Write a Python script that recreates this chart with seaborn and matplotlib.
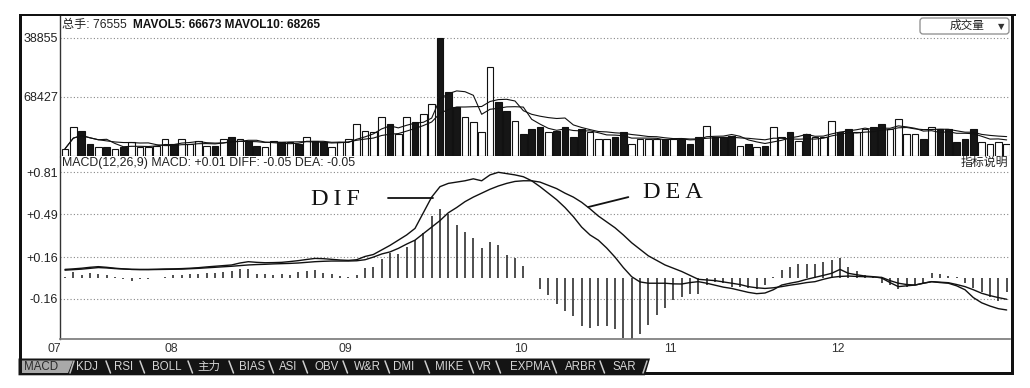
import numpy as np
import pandas as pd
import matplotlib
matplotlib.use("Agg")
import matplotlib.pyplot as plt
import seaborn as sns
from matplotlib.patches import Rectangle, Polygon, FancyBboxPatch

sns.set_theme(style="white")
plt.rcParams["font.family"] = ["Liberation Sans", "Noto Sans CJK SC", "DejaVu Sans"]

# ---- data ----
volume = [7800, 32500, 29000, 12800, 9300, 10400, 8100, 10400, 15100, 9300,
          9300, 11600, 18600, 13900, 18600, 12800, 17400, 11600, 11600, 19700,
          20900, 18600, 17400, 11600, 9300, 17400, 15100, 15100, 13900, 20900,
          17400, 15100, 9300, 15100, 18600, 36000, 29000, 26700, 44100, 36000,
          24400, 44100, 39400, 48700, 60300, 136855, 73100, 55700, 44100, 39400,
          26700, 102100, 61500, 52200, 40600,
          24400, 31300, 33600, 27800, 29000, 32500, 22000, 31300, 27800, 18600,
          19700, 20900, 27800, 13900, 18600, 19700, 19700, 18600, 18600, 19700,
          13900, 22000, 34800, 20900, 20900, 23200, 11600, 13900, 9300, 11600,
          32500, 20900, 27800, 17400, 24400, 20900, 22000, 40600, 27800, 31300,
          27800, 31300, 32500, 36000, 30200, 41800, 25500, 24400, 19700, 32500,
          31300, 30200, 15100, 19700, 30200, 16200, 13900, 16200, 13900]
# 1 = filled (down day), 0 = hollow (up day)
down_day = [0, 0, 1, 1, 0, 1, 0, 1, 0, 0,
            0, 0, 0, 1, 0, 0, 0, 0, 1, 0,
            1, 0, 1, 1, 0, 0, 1, 0, 1, 0,
            1, 1, 0, 0, 0, 0, 0, 0, 0, 1,
            0, 0, 1, 0, 0, 1, 1, 1, 0, 0,
            0, 0, 1, 1, 0,
            1, 1, 1, 0, 1, 1, 1, 1, 0, 0,
            0, 1, 1, 0, 0, 0, 0, 1, 0, 1,
            1, 1, 0, 1, 1, 1, 0, 1, 0, 1,
            0, 0, 1, 0, 1, 0, 0, 0, 1, 1,
            0, 0, 1, 1, 0, 0, 0, 0, 1, 0,
            1, 1, 1, 1, 1, 0, 0, 0, 0]

dif = [0.066, 0.07, 0.075, 0.082, 0.087, 0.082, 0.075, 0.07, 0.066, 0.065,
       0.066, 0.067, 0.069, 0.07, 0.072, 0.075, 0.079, 0.085, 0.09, 0.095,
       0.1, 0.115, 0.125, 0.12, 0.117, 0.118, 0.12, 0.126, 0.133, 0.142,
       0.15, 0.148, 0.143, 0.138, 0.135, 0.14, 0.165, 0.18, 0.215, 0.25,
       0.29, 0.33, 0.38, 0.50, 0.62, 0.70, 0.725, 0.735, 0.745, 0.76,
       0.745, 0.79, 0.81, 0.80, 0.79, 0.776, 0.745, 0.70, 0.65, 0.60,
       0.54, 0.47, 0.39, 0.33, 0.29, 0.23, 0.16, 0.08, 0.01, -0.03,
       -0.04, -0.04, -0.04, -0.045, -0.046, -0.035, -0.028, -0.04, -0.055, -0.07,
       -0.08, -0.095, -0.11, -0.12, -0.115, -0.09, -0.054, -0.04, -0.028, -0.01,
       0.005, 0.02, 0.036, 0.066, 0.036, 0.025, 0.015, 0.01, 0.0, -0.035,
       -0.066, -0.06, -0.054, -0.04, -0.028, -0.035, -0.04, -0.06, -0.09, -0.15,
       -0.19, -0.215, -0.235, -0.245]
dea = [0.06, 0.064, 0.068, 0.074, 0.08, 0.077, 0.072, 0.069, 0.066, 0.065,
       0.064, 0.065, 0.066, 0.067, 0.068, 0.071, 0.074, 0.078, 0.082, 0.086,
       0.09, 0.095, 0.1, 0.103, 0.105, 0.108, 0.11, 0.112, 0.115, 0.12,
       0.125, 0.128, 0.13, 0.13, 0.13, 0.132, 0.14, 0.16, 0.184, 0.2,
       0.227, 0.26, 0.29, 0.34, 0.39, 0.44, 0.50, 0.54, 0.585, 0.62,
       0.65, 0.68, 0.705, 0.725, 0.74, 0.745, 0.745, 0.735, 0.71, 0.685,
       0.65, 0.62, 0.58, 0.53, 0.475, 0.43, 0.385, 0.33, 0.27, 0.22,
       0.17, 0.135, 0.10, 0.075, 0.05, 0.02, -0.01, -0.015, -0.02, -0.03,
       -0.04, -0.05, -0.066, -0.075, -0.08, -0.075, -0.066, -0.055, -0.046, -0.035,
       -0.028, -0.01, 0.005, 0.012, 0.015, 0.012, 0.01, 0.008, 0.005, -0.02,
       -0.04, -0.05, -0.054, -0.04, -0.028, -0.032, -0.036, -0.05, -0.066, -0.09,
       -0.117, -0.135, -0.15, -0.163]
macd_bar = [0.01, 0.046, 0.02, 0.04, 0.03, 0.02, 0.01, -0.005, -0.02, -0.01,
            -0.005, 0.003, 0.008, 0.02, 0.025, 0.03, 0.033, 0.04, 0.04, 0.045,
            0.05, 0.066, 0.07, 0.03, 0.03, 0.025, 0.03, 0.02, 0.046, 0.05,
            0.06, 0.04, 0.03, 0.013, 0.008, 0.02, 0.077, 0.084, 0.148, 0.19,
            0.186, 0.24, 0.29, 0.345, 0.475, 0.525, 0.49, 0.405, 0.35, 0.305,
            0.228, 0.278, 0.252, 0.177, 0.15, 0.09, 0.0, -0.084, -0.128, -0.197,
            -0.255, -0.294, -0.37, -0.383, -0.37, -0.37, -0.39, -0.46, -0.465, -0.43,
            -0.36, -0.28, -0.23, -0.17, -0.145, -0.12, -0.12, -0.05, -0.03, -0.04,
            -0.066, -0.07, -0.08, -0.085, -0.054, 0.005, 0.06, 0.087, 0.105, 0.11,
            0.105, 0.125, 0.138, 0.15, 0.087, 0.05, 0.02, 0.01, -0.04, -0.054,
            -0.085, -0.066, -0.054, -0.04, 0.036, 0.03, 0.015, 0.005, -0.04, -0.08,
            -0.105, -0.143, -0.174, -0.105]

month_labels = ["07", "08", "09", "10", "11", "12"]
month_start = [0, 14, 35, 56, 74, 94]
vol_ticks = [68427, 136855]
vol_tick_labels = ["68427", "38855"]
macd_ticks = [0.81, 0.49, 0.16, -0.16]
macd_tick_labels = ["+0.81", "+0.49", "+0.16", "-0.16"]
tab_names = ["MACD", "KDJ", "RSI", "BOLL", "主力", "BIAS", "ASI", "OBV", "W&R",
             "DMI", "MIKE", "VR", "EXPMA", "ARBR", "SAR"]

W, H = 1030, 388
fig = plt.figure(figsize=(W / 100, H / 100), dpi=100)
fig.patch.set_facecolor("white")


def box(l, t, r, b):
    return [l / W, 1 - b / H, (r - l) / W, (b - t) / H]


days = np.arange(len(volume))
vol_df = pd.DataFrame({"day": days, "volume": volume,
                       "kind": ["down" if d else "up" for d in down_day]})
vol_df["ma5"] = vol_df["volume"].rolling(5, min_periods=1).mean()
vol_df["ma10"] = vol_df["volume"].rolling(10, min_periods=1).mean()

# ---- volume panel ----
ax_vol = fig.add_axes(box(60, 16, 1010, 155.5))
sns.barplot(data=vol_df, x="day", y="volume", hue="kind",
            palette={"up": "white", "down": "#161616"}, dodge=False,
            native_scale=True, width=0.8, edgecolor="#111111", linewidth=0.8,
            saturation=1, errorbar=None, legend=False, ax=ax_vol)
sns.lineplot(data=vol_df, x="day", y="ma5", ax=ax_vol, color="#111111", linewidth=0.8)
sns.lineplot(data=vol_df, x="day", y="ma10", ax=ax_vol, color="#111111", linewidth=0.8)
ax_vol.set_xlim(-0.6, 113.4)
ax_vol.set_ylim(0, 139.5 * 1160)
for v in vol_ticks:
    ax_vol.axhline(v, color="#888888", linewidth=0.8, linestyle=(0, (1, 2)), zorder=0)
ax_vol.set_yticks(vol_ticks)
ax_vol.set_yticklabels(vol_tick_labels)
ax_vol.set_xticks([])
ax_vol.set_xlabel("")
ax_vol.set_ylabel("")
ax_vol.tick_params(axis="y", length=0, pad=1.5, labelsize=9, labelcolor="#222222")
for s in ["top", "right", "bottom"]:
    ax_vol.spines[s].set_visible(False)
ax_vol.spines["left"].set_color("#333333")
ax_vol.spines["left"].set_linewidth(1.0)
ax_vol.patch.set_alpha(0)

# ---- MACD panel ----
ax_macd = fig.add_axes(box(60, 157, 1010, 339))
ax_macd.vlines(days, 0, macd_bar, colors="#1e1e1e", linewidth=1.1)
sns.lineplot(x=days, y=dif, ax=ax_macd, color="#111111", linewidth=1.0)
sns.lineplot(x=days, y=dea, ax=ax_macd, color="#111111", linewidth=1.0)
ax_macd.set_xlim(-0.6, 113.4)
ax_macd.set_ylim(-0.4674, 0.9272)
for v in macd_ticks:
    ax_macd.axhline(v, color="#888888", linewidth=0.8, linestyle=(0, (1, 2)), zorder=0)
ax_macd.set_yticks(macd_ticks)
ax_macd.set_yticklabels(macd_tick_labels)
ax_macd.tick_params(axis="y", length=0, pad=1.5, labelsize=9, labelcolor="#222222")
ax_macd.set_xticks(month_start[1:])
ax_macd.set_xticklabels([])
ax_macd.tick_params(axis="x", direction="out", length=4, width=0.8, color="#777777")
for lab, pos in zip(month_labels, month_start):
    ax_macd.text(pos - 1.3, -0.055, lab, transform=ax_macd.get_xaxis_transform(),
                 ha="center", va="center", fontsize=8.8, color="#333333")
for s in ["top", "right"]:
    ax_macd.spines[s].set_visible(False)
ax_macd.spines["left"].set_color("#333333")
ax_macd.spines["left"].set_linewidth(1.0)
ax_macd.spines["bottom"].set_color("#777777")
ax_macd.spines["bottom"].set_linewidth(1.2)
ax_macd.patch.set_alpha(0)

# DIF / DEA call-outs
serif = ["Liberation Serif", "DejaVu Serif"]
ax_macd.text(32.4, 0.60, "D\u2009I\u2009F", ha="center", va="center", fontsize=17.5,
             family=serif, color="#111111")
ax_macd.plot([38.7, 44.2], [0.61, 0.61], color="#111111", linewidth=1.3)
ax_macd.text(72.9, 0.655, "D\u2009E\u2009A", ha="center", va="center", fontsize=17.5,
             family=serif, color="#111111")
ax_macd.plot([67.6, 62.8], [0.62, 0.544], color="#111111", linewidth=1.3)

# ---- window chrome (pixel coordinates) ----
ov = fig.add_axes([0, 0, 1, 1], zorder=10)
ov.set_xlim(0, W)
ov.set_ylim(H, 0)
ov.axis("off")

ov.add_patch(Rectangle((18.5, 13.8), 997, 2.2, color="#111111", lw=0))
ov.add_patch(Rectangle((18.5, 13.8), 3.5, 361.5, color="#111111", lw=0))
ov.add_patch(Rectangle((1010.5, 13.8), 3.5, 361.5, color="#111111", lw=0))
ov.add_patch(Rectangle((18.5, 371.8), 995, 3.5, color="#111111", lw=0))
ov.add_patch(Polygon([(18.5, 358.5), (650, 358.5), (645, 375.3), (18.5, 375.3)],
                     closed=True, color="#141414", lw=0))
ov.add_patch(Polygon([(22, 360.5), (73, 360.5), (68, 373), (22, 373)],
                     closed=True, color="#a9a9a9", lw=0))

tab_x = [41, 87, 124, 167, 209, 252, 288, 327, 367, 404, 449, 484, 530, 581, 624]
sep_x = [109, 143, 191, 232, 272, 306, 346, 388, 428, 472, 499, 555, 603]
for name, x in zip(tab_names, tab_x):
    ov.text(x, 367, name, ha="center", va="center", fontsize=8.3,
            color="#2a2a2a" if name == "MACD" else "#d6d6d6")
ov.plot([74, 70], [361, 373], color="#bdbdbd", linewidth=1.1)
for x in sep_x:
    ov.plot([x - 3, x + 1.5], [361, 373], color="#cfcfcf", linewidth=1.1)
ov.plot([647, 643], [361, 373], color="#bdbdbd", linewidth=1.1)

# headers
ov.text(62, 25, "总手: 76555", ha="left", va="center", fontsize=8.7, color="#222222")
ov.text(133, 25, "MAVOL5: 66673 MAVOL10: 68265", ha="left", va="center",
        fontsize=8.6, fontweight="bold", color="#111111")
ov.text(62, 163, "MACD(12,26,9) MACD: +0.01 DIFF: -0.05 DEA: -0.05", ha="left",
        va="center", fontsize=8.9, color="#222222")
ov.text(1008, 163, "指标说明", ha="right", va="center", fontsize=8.6, color="#222222")

# indicator drop-down
ov.add_patch(FancyBboxPatch((920, 18), 89, 16, boxstyle="round,pad=0,rounding_size=3",
                            facecolor="white", edgecolor="#8a8a8a", linewidth=0.9))
ov.text(967, 26, "成交量", ha="center", va="center", fontsize=8.4, color="#222222")
ov.text(1001, 26.5, "\u25bc", ha="center", va="center", fontsize=6,
        family=["DejaVu Sans"], color="#333333")

fig.savefig("out.png", dpi=100)
